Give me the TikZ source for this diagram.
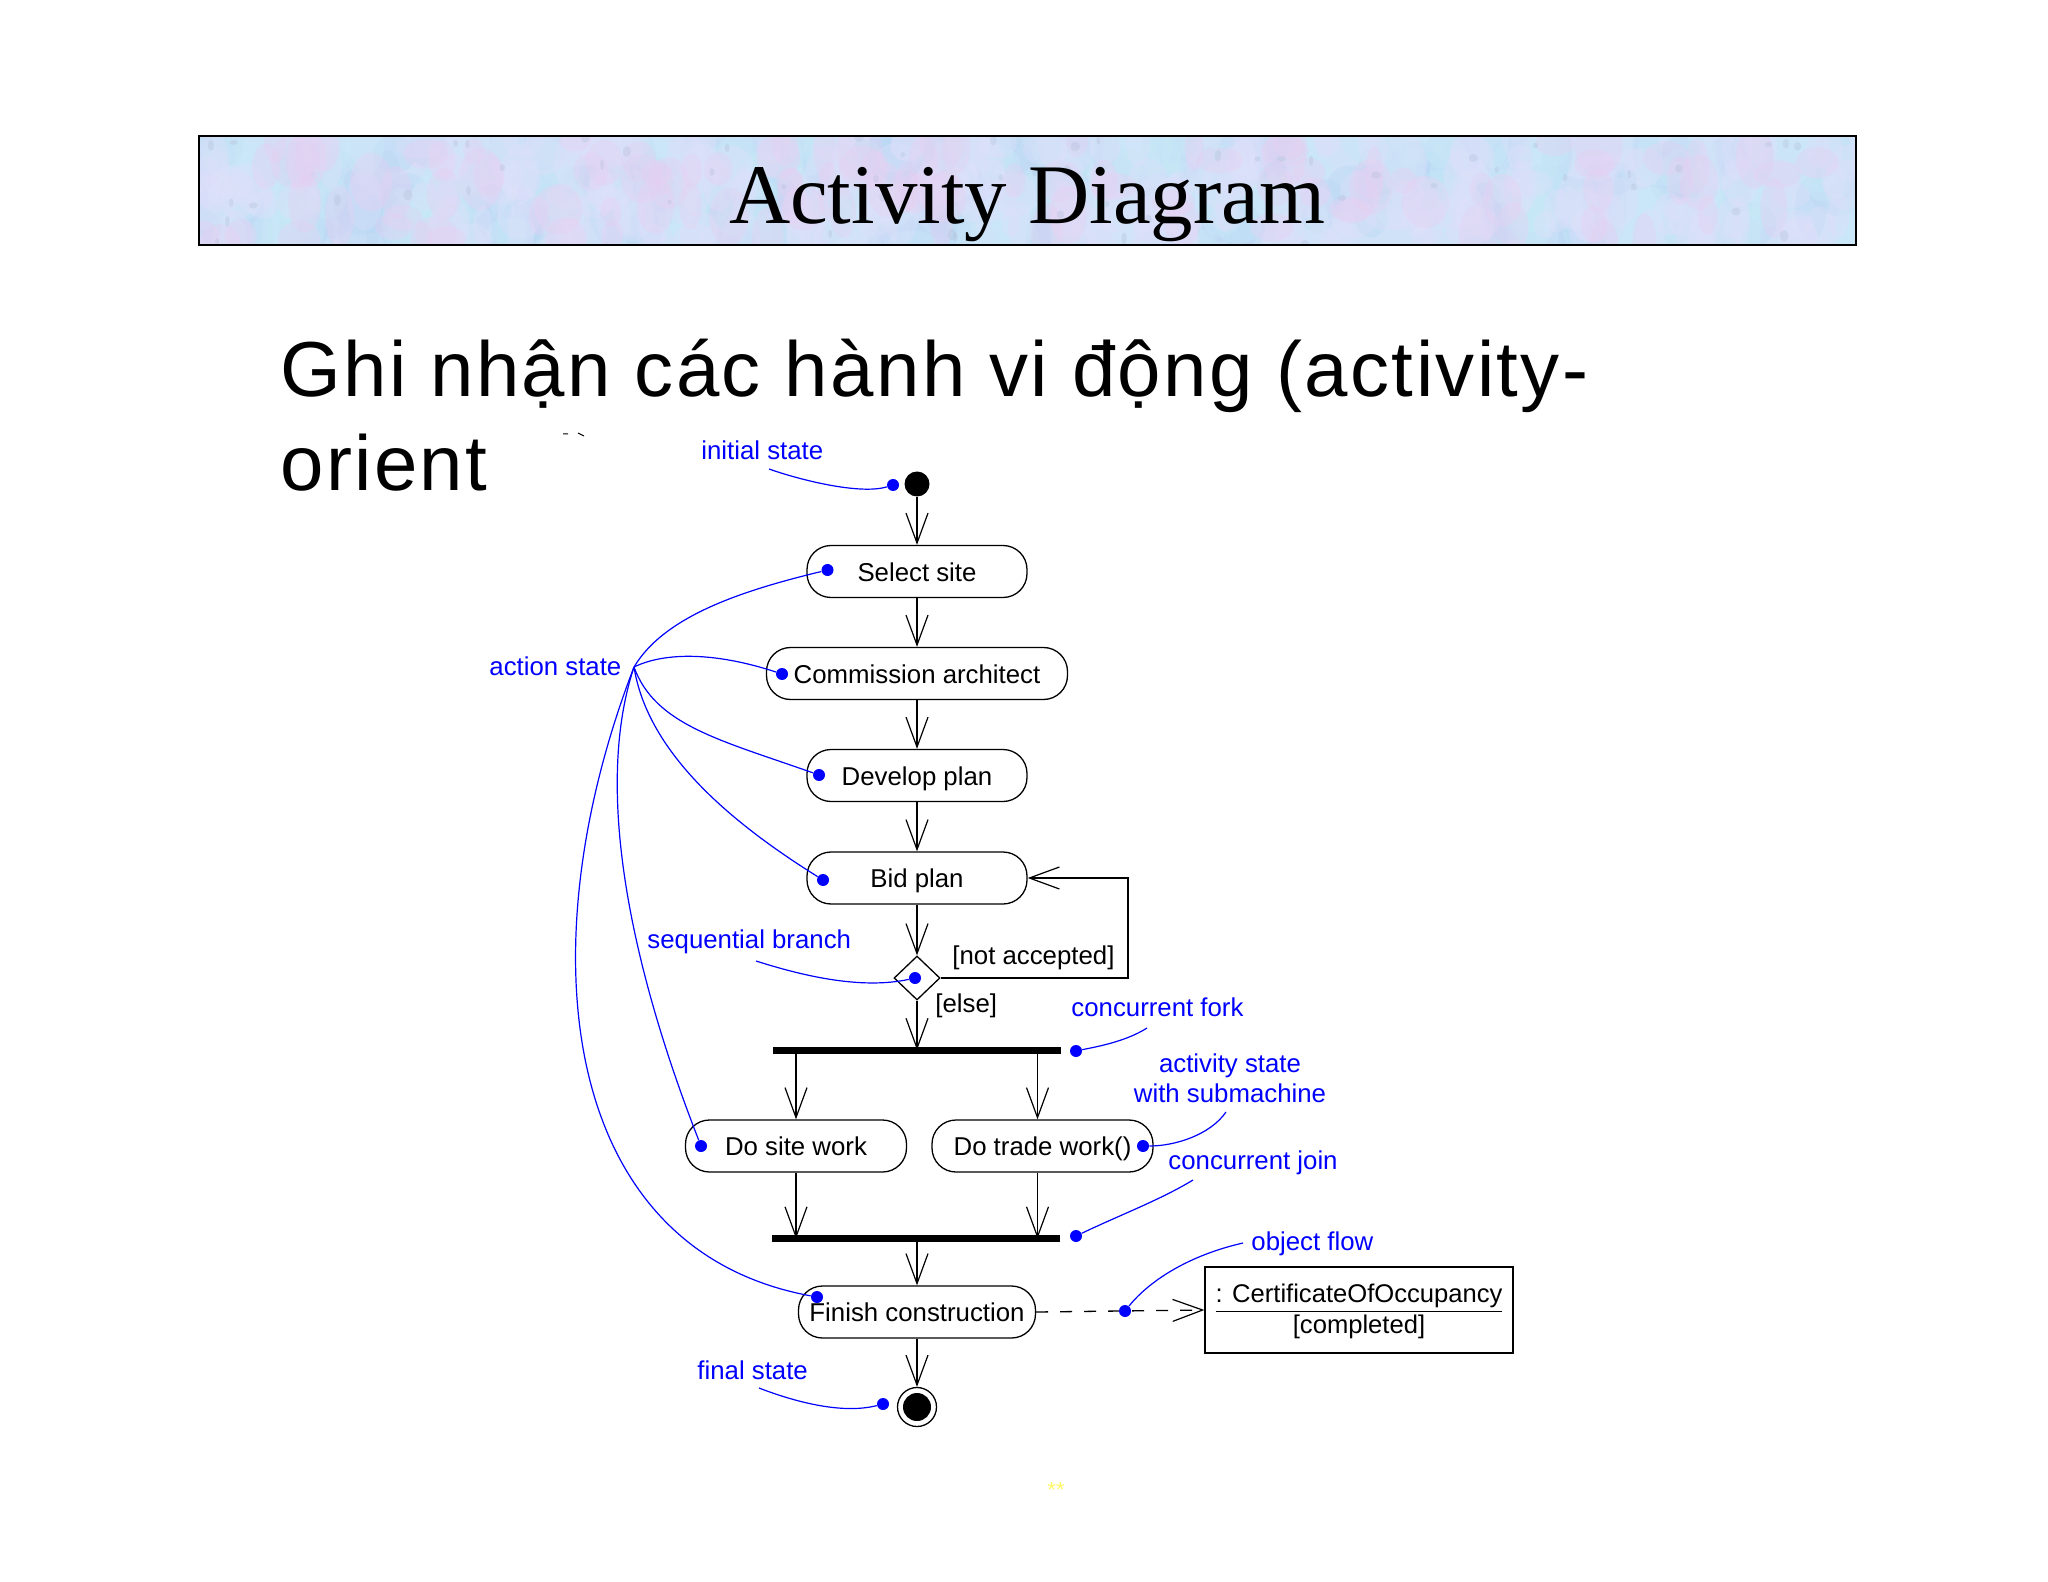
\documentclass[tikz,border=0pt]{standalone}
\usepackage{fontspec}
\setmainfont{Liberation Sans}
\newfontfamily\titlefont{Liberation Serif}
\newfontfamily\bodyfont[LetterSpace=3.0]{Liberation Sans}
\usetikzlibrary{arrows.meta,shapes.geometric}
\definecolor{bannerbase}{HTML}{CFE2F8}
\definecolor{bannerpink}{HTML}{E8CFF2}
\definecolor{bannercyan}{HTML}{C8EAF8}
\definecolor{bannerlav}{HTML}{E0E0FB}
\definecolor{bannerblue}{HTML}{B8D8F4}
\definecolor{bannergrey}{HTML}{B4C1DA}
\tikzset{
    flow/.style = {line width=0.65pt, -{Straight Barb[length=15pt,width=11pt,line width=0.6pt]}},
    pill/.style = {draw, line width=0.65pt, rounded corners=12pt, minimum height=26pt, inner sep=0pt,
        text height=11.7pt, text depth=2pt, font=\fontsize{12.9}{15}\selectfont},
    bar/.style = {fill=black, inner sep=0pt, minimum height=3.5pt},
    bluedot/.style = {circle, fill=blue, inner sep=0pt, minimum size=6pt},
    leader/.style = {draw=blue, line width=0.6pt},
    note/.style = {text=blue, inner sep=0pt, anchor=base west, font=\fontsize{12.9}{15}\selectfont},
    guard/.style = {inner sep=0pt, anchor=base west, font=\fontsize{12.9}{15}\selectfont},
}
\begin{document}
\begin{tikzpicture}[x=0.5pt, y=-0.5pt]
    \useasboundingbox (0,0) rectangle (2048,1582);

    % banner
    \begin{scope}
        \clip (199,136) rectangle (1856,245);
        \fill[bannerbase] (199,136) rectangle (1856,245);
        \pgfmathsetseed{7}
        \foreach \col/\cnt/\rad in {bannerblue/170/18, bannercyan/190/17, bannerlav/230/15, bannerpink/110/15, bannergrey/60/3}
        {
            \foreach \i in {1,...,\cnt}
            {
                \pgfmathsetmacro{\px}{199+rnd*1657}
                \pgfmathsetmacro{\py}{136+rnd*109}
                \pgfmathsetmacro{\rx}{\rad*(0.6+rnd)}
                \pgfmathsetmacro{\ry}{\rad*(0.8+1.3*rnd)}
                \fill[\col, opacity=0.35] (\px,\py) ellipse [x radius=\rx, y radius=\ry];
            }
        }
    \end{scope}
    \node[draw, line width=0.8pt, minimum width=828.5pt, minimum height=54.5pt, inner sep=0pt] (banner) at (1027.5,190.5) {};
    \node[anchor=base, inner sep=0pt, font=\titlefont\fontsize{42.4}{48}\selectfont] (title) at (1027,224) {Activity Diagram};

    % slide text
    \node[anchor=base west, inner sep=0pt, font=\bodyfont\fontsize{39}{46}\selectfont] (bodyA) at (280,397) {Ghi nhận các hành vi động (activity-};
    \begin{scope}
        \clip (270,420) rectangle (489.5,520);
        \node[anchor=base west, inner sep=0pt, font=\bodyfont\fontsize{39}{46}\selectfont] (bodyB) at (280,491) {oriente};
    \end{scope}
    \draw[line width=0.5pt] (563,434) -- (568,434) (578,433) -- (584,436);

    % flow nodes
    \node[circle, fill=black, inner sep=0pt, minimum size=12.5pt] (start) at (917,484) {};
    \node[pill, minimum width=110pt] (select) at (917,571.5) {Select site};
    \node[pill, minimum width=150.5pt] (commission) at (917,673.5) {Commission architect};
    \node[pill, minimum width=110pt] (develop) at (917,775.5) {Develop plan};
    \node[pill, minimum width=110pt] (bid) at (917,878) {Bid plan};
    \node[draw, diamond, line width=0.65pt, inner sep=0pt, minimum width=23pt, minimum height=22pt] (branch) at (917,978) {};
    \node[bar, minimum width=144pt] (fork) at (917,1050) {};
    \node[pill, minimum width=110.5pt] (sitework) at (796,1146) {Do site work};
    \node[pill, minimum width=110.5pt] (tradework) at (1042.5,1146) {Do trade work()};
    \node[bar, minimum width=144pt] (join) at (916,1238.5) {};
    \node[pill, minimum width=118.5pt] (finish) at (917,1312) {Finish construction};
    \node[draw, circle, line width=0.65pt, inner sep=0pt, minimum size=19.5pt] (stop) at (917,1407) {};
    \node[circle, fill=black, inner sep=0pt, minimum size=14pt] (stopdot) at (917,1407) {};
    \node[draw, line width=0.65pt, minimum width=154pt, minimum height=43pt, inner sep=0pt, align=center,
        font=\fontsize{12.8}{15}\selectfont] (cert) at (1359,1310) {\rule{0pt}{11pt}\underline{: CertificateOfOccupancy}\\[0.5pt][completed]};

    % flows
    \draw[flow] (start) -- (select);
    \draw[flow] (select) -- (commission);
    \draw[flow] (commission) -- (develop);
    \draw[flow] (develop) -- (bid);
    \draw[flow] (bid) -- (branch);
    \draw[flow] (branch) -- (fork.center);
    \coordinate (forkL) at (796,1050);
    \coordinate (forkR) at (1037.5,1050);
    \draw[flow] (forkL) -- (sitework.north);
    \draw[flow] (forkR) -- (forkR |- tradework.north);
    \draw[flow] (sitework.south) -- (sitework.south |- join.center);
    \draw[flow] (forkR |- tradework.south) -- (forkR |- join.center);
    \draw[flow] (join.south -| finish.north) -- (finish.north);
    \draw[flow] (finish) -- (stop);
    \coordinate (loop) at (1128,978);
    \draw[flow] (branch.east) -- (loop) -- (loop |- bid.east) -- (bid.east);
    \draw[flow, dashed, dash pattern=on 6pt off 6pt] (finish.east) -- (cert.west);

    % guards
    \node[guard] (notaccepted) at (952,964) {[not accepted]};
    \node[guard] (else) at (935,1012) {[else]};

    % notes
    \node[note] (nInitial) at (701,460) {initial state};
    \node[note] (nAction) at (489,675) {action state};
    \node[note] (nBranch) at (647,948) {sequential branch};
    \node[note] (nFork) at (1071,1016) {concurrent fork};
    \node[note, anchor=center, align=center] (nSub) at (1230,1078) {activity state\\with submachine};
    \node[note] (nJoin) at (1168,1169) {concurrent join};
    \node[note] (nObject) at (1251,1250) {object flow};
    \node[note] (nFinal) at (697,1379) {final state};

    % leader dots
    \node[bluedot] (dInitial) at (893,485) {};
    \node[bluedot] (dSelect) at (827.5,570) {};
    \node[bluedot] (dCommission) at (782,674) {};
    \node[bluedot] (dDevelop) at (819,775) {};
    \node[bluedot] (dBid) at (823,880) {};
    \node[bluedot] (dBranch) at (915,978) {};
    \node[bluedot] (dFork) at (1076,1051) {};
    \node[bluedot] (dSite) at (701,1146) {};
    \node[bluedot] (dTrade) at (1143,1146) {};
    \node[bluedot] (dJoin) at (1076,1236) {};
    \node[bluedot] (dFinish) at (817,1297) {};
    \node[bluedot] (dObject) at (1125,1311) {};
    \node[bluedot] (dFinal) at (883,1404) {};

    % leaders
    \coordinate (hub) at (634,667);
    \coordinate (fromInitial) at (769,469);
    \coordinate (fromBranch) at (756,961);
    \coordinate (fromFork) at (1147,1028);
    \coordinate (fromSub) at (1226,1112);
    \coordinate (fromJoin) at (1193,1180);
    \coordinate (fromObject) at (1243,1243);
    \coordinate (fromFinal) at (759,1388);
    \draw[leader] (fromInitial) .. controls (800,480) and (860,495) .. (dInitial);
    \draw[leader] (hub) .. controls (665,615) and (745,590) .. (dSelect);
    \draw[leader] (hub) .. controls (665,652) and (715,652) .. (dCommission);
    \draw[leader] (hub) .. controls (655,725) and (720,740) .. (dDevelop);
    \draw[leader] (hub) .. controls (648,755) and (735,825) .. (dBid);
    \draw[leader] (hub) .. controls (590,800) and (640,990) .. (dSite);
    \draw[leader] (hub) .. controls (525,950) and (560,1250) .. (dFinish);
    \draw[leader] (fromBranch) .. controls (800,975) and (860,990) .. (dBranch);
    \draw[leader] (fromFork) .. controls (1125,1042) and (1095,1047) .. (dFork);
    \draw[leader] (fromSub) .. controls (1210,1135) and (1175,1146) .. (dTrade);
    \draw[leader] (fromJoin) .. controls (1160,1200) and (1120,1215) .. (dJoin);
    \draw[leader] (fromObject) .. controls (1190,1255) and (1150,1280) .. (dObject);
    \draw[leader] (fromFinal) .. controls (790,1400) and (840,1415) .. (dFinal);

    \node[text=yellow!60, inner sep=0pt, font=\fontsize{11}{12}\selectfont] (stars) at (1056,1490) {**};
\end{tikzpicture}
\end{document}
